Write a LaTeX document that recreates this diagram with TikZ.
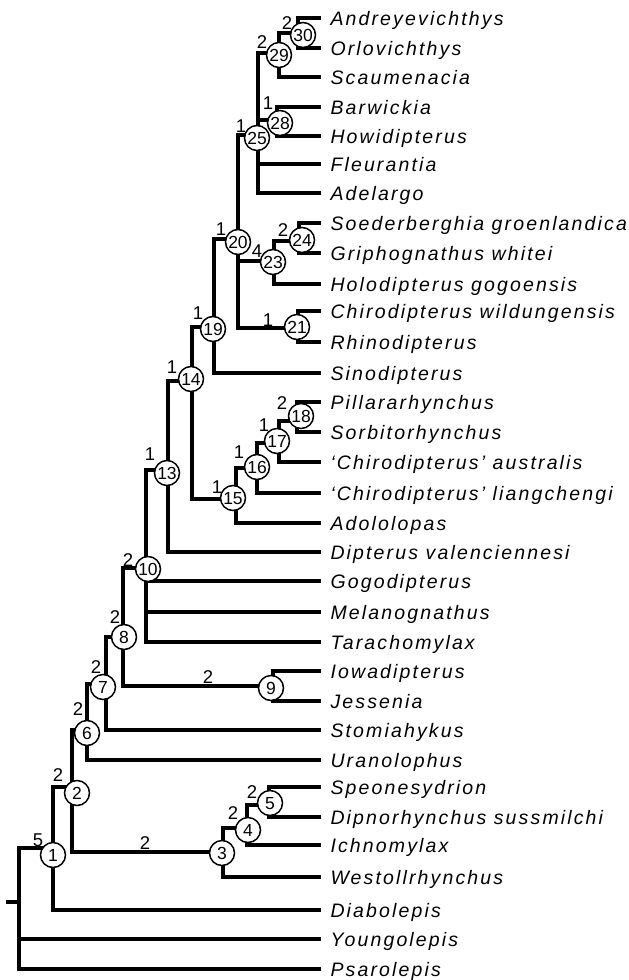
\documentclass[tikz,border=0pt]{standalone}
\usepackage{fontspec}
\setmainfont{Liberation Sans}
\newfontfamily\leaffont{Liberation Sans}[LetterSpace=11]
\tikzset{
  br/.style={line width=3.2pt, line cap=rect},
  lf/.style={anchor=west, inner sep=0pt, outer xsep=11.5pt, text height=14pt, text depth=0pt, font=\leaffont\itshape\fontsize{19.5}{22}\selectfont},
  cn/.style={circle, draw, line width=1.5pt, fill=white, minimum size=25pt, inner sep=0pt, text height=12.5pt, text depth=0pt, font=\fontsize{17.5}{19}\selectfont},
  bl/.style={inner sep=0pt, text height=13pt, text depth=0pt, font=\fontsize{18.5}{20}\selectfont},
}
\begin{document}
\begin{tikzpicture}[x=1pt,y=-1pt]
\useasboundingbox (0,0) rectangle (629,980);
% leaves
\node[lf] (L0) at (319,18) {Andreyevichthys};
\node[lf] (L1) at (319,48) {Orlovichthys};
\node[lf] (L2) at (319,77) {Scaumenacia};
\node[lf] (L3) at (319,107) {Barwickia};
\node[lf] (L4) at (319,136) {Howidipterus};
\node[lf] (L5) at (319,164) {Fleurantia};
\node[lf] (L6) at (319,193) {Adelargo};
\node[lf] (L7) at (319,223) {Soederberghia groenlandica};
\node[lf] (L8) at (319,253) {Griphognathus whitei};
\node[lf] (L9) at (319,284) {Holodipterus gogoensis};
\node[lf] (L10) at (319,311) {Chirodipterus wildungensis};
\node[lf] (L11) at (319,342) {Rhinodipterus};
\node[lf] (L12) at (319,373) {Sinodipterus};
\node[lf] (L13) at (319,402) {Pillararhynchus};
\node[lf] (L14) at (319,432) {Sorbitorhynchus};
\node[lf] (L15) at (319,462) {‘Chirodipterus’ australis};
\node[lf] (L16) at (319,493) {‘Chirodipterus’ liangchengi};
\node[lf] (L17) at (319,523) {Adololopas};
\node[lf] (L18) at (319,552) {Dipterus valenciennesi};
\node[lf] (L19) at (319,581) {Gogodipterus};
\node[lf] (L20) at (319,612) {Melanognathus};
\node[lf] (L21) at (319,642) {Tarachomylax};
\node[lf] (L22) at (319,671) {Iowadipterus};
\node[lf] (L23) at (319,701) {Jessenia};
\node[lf] (L24) at (319,730) {Stomiahykus};
\node[lf] (L25) at (319,760) {Uranolophus};
\node[lf] (L26) at (319,787) {Speonesydrion};
\node[lf] (L27) at (319,817) {Dipnorhynchus sussmilchi};
\node[lf] (L28) at (319,845) {Ichnomylax};
\node[lf] (L29) at (319,877) {Westollrhynchus};
\node[lf] (L30) at (319,910) {Diabolepis};
\node[lf] (L31) at (319,939) {Youngolepis};
\node[lf] (L32) at (319,969) {Psarolepis};
% junctions
\coordinate (root) at (19,902);
\coordinate (rootstub) at (8,902);
\coordinate (j1) at (53,848);
\coordinate (j2) at (72,787);
\coordinate (j3) at (223,852);
\coordinate (j4) at (247,828);
\coordinate (j5) at (269,805);
\coordinate (j6) at (87,730);
\coordinate (j7) at (106,684);
\coordinate (j8) at (123,637);
\coordinate (j9) at (273,686);
\coordinate (j10) at (146,568);
\coordinate (j13) at (168,470);
\coordinate (j14) at (192,381);
\coordinate (j15) at (236,499);
\coordinate (j16) at (257,468);
\coordinate (j17) at (279,443);
\coordinate (j18) at (297,421);
\coordinate (j19) at (214,327);
\coordinate (j20) at (238,239);
\coordinate (j21) at (298,328);
\coordinate (j23) at (274,261);
\coordinate (j24) at (299,241);
\coordinate (j25) at (258,135);
\coordinate (j28) at (277,120);
\coordinate (j29) at (279,53);
\coordinate (j30) at (298,33);
% root
\draw[br] (rootstub) -- (root);
\draw[br] (j1 -| root) -- (L32.west -| root);
\draw[br] (j1 -| root) -- (j1);
\draw[br] (L31.west -| root) -- (L31.west);
\draw[br] (L32.west -| root) -- (L32.west);
% node 1
\draw[br] (j2 -| j1) -- (L30.west -| j1);
\draw[br] (j2 -| j1) -- (j2);
\draw[br] (L30.west -| j1) -- (L30.west);
% node 2
\draw[br] (j6 -| j2) -- (j3 -| j2);
\draw[br] (j6 -| j2) -- (j6);
\draw[br] (j3 -| j2) -- (j3);
% node 3
\draw[br] (j4 -| j3) -- (L29.west -| j3);
\draw[br] (j4 -| j3) -- (j4);
\draw[br] (L29.west -| j3) -- (L29.west);
% node 4
\draw[br] (j5 -| j4) -- (L28.west -| j4);
\draw[br] (j5 -| j4) -- (j5);
\draw[br] (L28.west -| j4) -- (L28.west);
% node 5
\draw[br] (L26.west -| j5) -- (L27.west -| j5);
\draw[br] (L26.west -| j5) -- (L26.west);
\draw[br] (L27.west -| j5) -- (L27.west);
% node 6
\draw[br] (j7 -| j6) -- (L25.west -| j6);
\draw[br] (j7 -| j6) -- (j7);
\draw[br] (L25.west -| j6) -- (L25.west);
% node 7
\draw[br] (j8 -| j7) -- (L24.west -| j7);
\draw[br] (j8 -| j7) -- (j8);
\draw[br] (L24.west -| j7) -- (L24.west);
% node 8
\draw[br] (j10 -| j8) -- (j9 -| j8);
\draw[br] (j10 -| j8) -- (j10);
\draw[br] (j9 -| j8) -- (j9);
% node 9
\draw[br] (L22.west -| j9) -- (L23.west -| j9);
\draw[br] (L22.west -| j9) -- (L22.west);
\draw[br] (L23.west -| j9) -- (L23.west);
% node 10
\draw[br] (j13 -| j10) -- (L21.west -| j10);
\draw[br] (j13 -| j10) -- (j13);
\draw[br] (L19.west -| j10) -- (L19.west);
\draw[br] (L20.west -| j10) -- (L20.west);
\draw[br] (L21.west -| j10) -- (L21.west);
% node 13
\draw[br] (j14 -| j13) -- (L18.west -| j13);
\draw[br] (j14 -| j13) -- (j14);
\draw[br] (L18.west -| j13) -- (L18.west);
% node 14
\draw[br] (j19 -| j14) -- (j15 -| j14);
\draw[br] (j19 -| j14) -- (j19);
\draw[br] (j15 -| j14) -- (j15);
% node 15
\draw[br] (j16 -| j15) -- (L17.west -| j15);
\draw[br] (j16 -| j15) -- (j16);
\draw[br] (L17.west -| j15) -- (L17.west);
% node 16
\draw[br] (j17 -| j16) -- (L16.west -| j16);
\draw[br] (j17 -| j16) -- (j17);
\draw[br] (L16.west -| j16) -- (L16.west);
% node 17
\draw[br] (j18 -| j17) -- (L15.west -| j17);
\draw[br] (j18 -| j17) -- (j18);
\draw[br] (L15.west -| j17) -- (L15.west);
% node 18
\draw[br] (L13.west -| j18) -- (L14.west -| j18);
\draw[br] (L13.west -| j18) -- (L13.west);
\draw[br] (L14.west -| j18) -- (L14.west);
% node 19
\draw[br] (j20 -| j19) -- (L12.west -| j19);
\draw[br] (j20 -| j19) -- (j20);
\draw[br] (L12.west -| j19) -- (L12.west);
% node 20
\draw[br] (j25 -| j20) -- (j21 -| j20);
\draw[br] (j25 -| j20) -- (j25);
\draw[br] (j23 -| j20) -- (j23);
\draw[br] (j21 -| j20) -- (j21);
% node 21
\draw[br] (L10.west -| j21) -- (L11.west -| j21);
\draw[br] (L10.west -| j21) -- (L10.west);
\draw[br] (L11.west -| j21) -- (L11.west);
% node 23
\draw[br] (j24 -| j23) -- (L9.west -| j23);
\draw[br] (j24 -| j23) -- (j24);
\draw[br] (L9.west -| j23) -- (L9.west);
% node 24
\draw[br] (L7.west -| j24) -- (L8.west -| j24);
\draw[br] (L7.west -| j24) -- (L7.west);
\draw[br] (L8.west -| j24) -- (L8.west);
% node 25
\draw[br] (j29 -| j25) -- (L6.west -| j25);
\draw[br] (j29 -| j25) -- (j29);
\draw[br] (j28 -| j25) -- (j28);
\draw[br] (L5.west -| j25) -- (L5.west);
\draw[br] (L6.west -| j25) -- (L6.west);
% node 28
\draw[br] (L3.west -| j28) -- (L4.west -| j28);
\draw[br] (L3.west -| j28) -- (L3.west);
\draw[br] (L4.west -| j28) -- (L4.west);
% node 29
\draw[br] (j30 -| j29) -- (L2.west -| j29);
\draw[br] (j30 -| j29) -- (j30);
\draw[br] (L2.west -| j29) -- (L2.west);
% node 30
\draw[br] (L0.west -| j30) -- (L1.west -| j30);
\draw[br] (L0.west -| j30) -- (L0.west);
\draw[br] (L1.west -| j30) -- (L1.west);
% circles
\node[cn] (c1) at (53,855) {1};
\node[cn] (c2) at (77,793) {2};
\node[cn] (c3) at (222,853) {3};
\node[cn] (c4) at (248,830) {4};
\node[cn] (c5) at (270,803) {5};
\node[cn] (c6) at (87,733) {6};
\node[cn] (c7) at (103,687) {7};
\node[cn] (c8) at (124,637) {8};
\node[cn] (c9) at (271,688) {9};
\node[cn] (c10) at (148,569) {10};
\node[cn] (c13) at (167,473) {13};
\node[cn] (c14) at (191,379) {14};
\node[cn] (c15) at (233,498) {15};
\node[cn] (c16) at (257,467) {16};
\node[cn] (c17) at (277,441) {17};
\node[cn] (c18) at (301,416) {18};
\node[cn] (c19) at (213,329) {19};
\node[cn] (c20) at (238,242) {20};
\node[cn] (c21) at (297,327) {21};
\node[cn] (c23) at (273,262) {23};
\node[cn] (c24) at (302,240) {24};
\node[cn] (c25) at (257,138) {25};
\node[cn] (c28) at (280,123) {28};
\node[cn] (c29) at (279,55) {29};
\node[cn] (c30) at (303,35) {30};
% branch support labels
\node[bl] (b1) at (38,840) {5};
\node[bl] (b2) at (58,775) {2};
\node[bl] (b3) at (145,843) {2};
\node[bl] (b4) at (233,813) {2};
\node[bl] (b5) at (252,792) {2};
\node[bl] (b6) at (78,709) {2};
\node[bl] (b7) at (96,667) {2};
\node[bl] (b8) at (115,617) {2};
\node[bl] (b9) at (208,677) {2};
\node[bl] (b10) at (128,560) {2};
\node[bl] (b13) at (150,454) {1};
\node[bl] (b14) at (172,367) {1};
\node[bl] (b15) at (217,487) {1};
\node[bl] (b16) at (239,452) {1};
\node[bl] (b17) at (264,425) {1};
\node[bl] (b18) at (282,403) {2};
\node[bl] (b19) at (198,313) {1};
\node[bl] (b20) at (221,229) {1};
\node[bl] (b21) at (268,320) {1};
\node[bl] (b23) at (257,251) {4};
\node[bl] (b24) at (283,230) {2};
\node[bl] (b25) at (241,126) {1};
\node[bl] (b28) at (268,103) {1};
\node[bl] (b29) at (262,42) {2};
\node[bl] (b30) at (287,23) {2};
\end{tikzpicture}
\end{document}
